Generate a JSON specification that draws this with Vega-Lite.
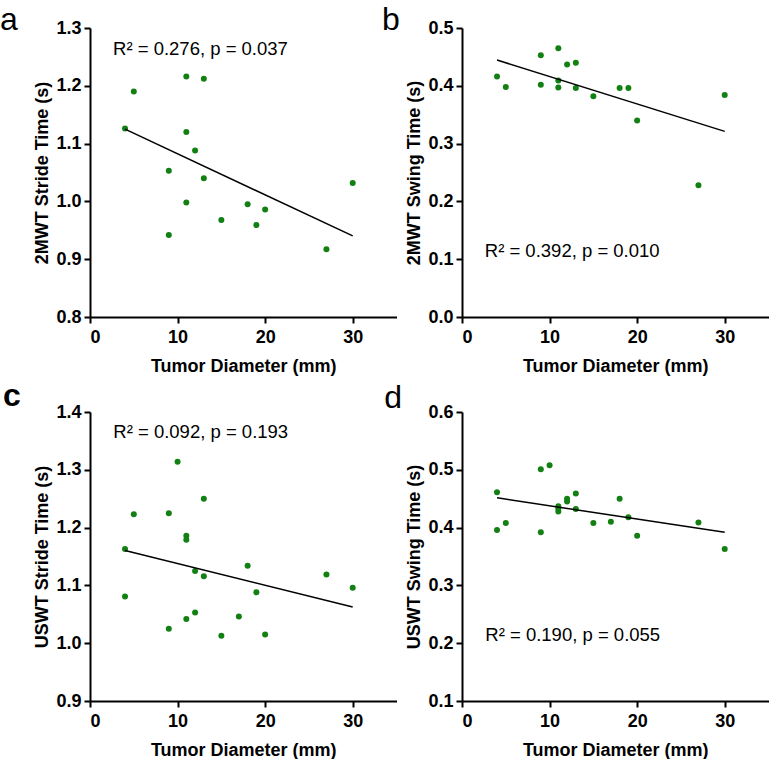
{
  "$schema": "https://vega.github.io/schema/vega-lite/v6.json",
  "background": "white",
  "padding": {"left": 0, "top": 3, "right": 0, "bottom": 0},
  "datasets": {
    "a": [
      {"x": 4, "y": 1.126}, {"x": 5, "y": 1.190}, {"x": 11, "y": 1.216}, {"x": 13, "y": 1.212},
      {"x": 11, "y": 1.120}, {"x": 12, "y": 1.088}, {"x": 9, "y": 1.053}, {"x": 13, "y": 1.040},
      {"x": 11, "y": 0.998}, {"x": 18, "y": 0.995}, {"x": 20, "y": 0.986}, {"x": 15, "y": 0.968},
      {"x": 19, "y": 0.959}, {"x": 9, "y": 0.942}, {"x": 27, "y": 0.917}, {"x": 30, "y": 1.032}
    ],
    "b": [
      {"x": 4, "y": 0.416}, {"x": 5, "y": 0.398}, {"x": 9, "y": 0.453}, {"x": 9, "y": 0.402},
      {"x": 11, "y": 0.465}, {"x": 11, "y": 0.409}, {"x": 11, "y": 0.397}, {"x": 12, "y": 0.437},
      {"x": 13, "y": 0.440}, {"x": 13, "y": 0.396}, {"x": 15, "y": 0.382}, {"x": 18, "y": 0.396},
      {"x": 19, "y": 0.396}, {"x": 20, "y": 0.340}, {"x": 27, "y": 0.228}, {"x": 30, "y": 0.384}
    ],
    "c": [
      {"x": 4, "y": 1.163}, {"x": 4, "y": 1.081}, {"x": 5, "y": 1.223}, {"x": 9, "y": 1.225},
      {"x": 9, "y": 1.025}, {"x": 10, "y": 1.314}, {"x": 11, "y": 1.186}, {"x": 11, "y": 1.179},
      {"x": 11, "y": 1.042}, {"x": 12, "y": 1.125}, {"x": 12, "y": 1.053}, {"x": 13, "y": 1.250},
      {"x": 13, "y": 1.116}, {"x": 15, "y": 1.013}, {"x": 17, "y": 1.046}, {"x": 18, "y": 1.134},
      {"x": 19, "y": 1.088}, {"x": 20, "y": 1.015}, {"x": 27, "y": 1.119}, {"x": 30, "y": 1.096}
    ],
    "d": [
      {"x": 4, "y": 0.461}, {"x": 4, "y": 0.396}, {"x": 5, "y": 0.408}, {"x": 9, "y": 0.501},
      {"x": 9, "y": 0.392}, {"x": 10, "y": 0.508}, {"x": 11, "y": 0.437}, {"x": 11, "y": 0.433},
      {"x": 11, "y": 0.428}, {"x": 12, "y": 0.450}, {"x": 12, "y": 0.445}, {"x": 13, "y": 0.459},
      {"x": 13, "y": 0.432}, {"x": 15, "y": 0.408}, {"x": 17, "y": 0.410}, {"x": 18, "y": 0.450},
      {"x": 19, "y": 0.418}, {"x": 20, "y": 0.386}, {"x": 27, "y": 0.409}, {"x": 30, "y": 0.363}
    ],
    "stats": [
      {"panel": "a", "label": "R² = 0.276, p = 0.037"},
      {"panel": "b", "label": "R² = 0.392, p = 0.010"},
      {"panel": "c", "label": "R² = 0.092, p = 0.193"},
      {"panel": "d", "label": "R² = 0.190, p = 0.055"}
    ]
  },
  "columns": 2,
  "bounds": "flush",
  "spacing": {"row": 95, "column": 65},
  "concat": [
    {
      "width": 306.5, "height": 289,
      "title": {"text": "a", "dx": -90, "dy": 21.7},
      "layer": [
        {
          "data": {"name": "a"},
          "mark": {"type": "circle", "size": 36, "color": "#128012", "opacity": 1},
          "encoding": {
            "x": {"field": "x", "type": "quantitative", "scale": {"domain": [0, 35], "nice": false},
                  "axis": {"title": "Tumor Diameter (mm)", "values": [0, 10, 20, 30], "format": "d"}},
            "y": {"field": "y", "type": "quantitative", "scale": {"domain": [0.8, 1.3], "nice": false, "zero": false},
                  "axis": {"title": "2MWT Stride Time (s)", "values": [0.8, 0.9, 1.0, 1.1, 1.2, 1.3], "format": ".1f"}}
          }
        },
        {
          "data": {"name": "a"},
          "transform": [{"regression": "y", "on": "x"}],
          "mark": {"type": "line", "color": "black", "strokeWidth": 1.5},
          "encoding": {"x": {"field": "x", "type": "quantitative"}, "y": {"field": "y", "type": "quantitative"}}
        },
        {
          "data": {"name": "stats"},
          "transform": [{"filter": "datum.panel === 'a'"}],
          "mark": {"type": "text", "align": "left", "baseline": "alphabetic", "fontSize": 18.5, "fontWeight": "normal", "font": "Liberation Sans", "color": "black"},
          "encoding": {"x": {"datum": 2.63}, "y": {"datum": 1.254}, "text": {"field": "label"}}
        }
      ]
    },
    {
      "width": 306.5, "height": 289,
      "title": {"text": "b", "dx": -80, "dy": 21.7},
      "layer": [
        {
          "data": {"name": "b"},
          "mark": {"type": "circle", "size": 36, "color": "#128012", "opacity": 1},
          "encoding": {
            "x": {"field": "x", "type": "quantitative", "scale": {"domain": [0, 35], "nice": false},
                  "axis": {"title": "Tumor Diameter (mm)", "values": [0, 10, 20, 30], "format": "d"}},
            "y": {"field": "y", "type": "quantitative", "scale": {"domain": [0, 0.5], "nice": false},
                  "axis": {"title": "2MWT Swing Time (s)", "values": [0, 0.1, 0.2, 0.3, 0.4, 0.5], "format": ".1f"}}
          }
        },
        {
          "data": {"name": "b"},
          "transform": [{"regression": "y", "on": "x"}],
          "mark": {"type": "line", "color": "black", "strokeWidth": 1.5},
          "encoding": {"x": {"field": "x", "type": "quantitative"}, "y": {"field": "y", "type": "quantitative"}}
        },
        {
          "data": {"name": "stats"},
          "transform": [{"filter": "datum.panel === 'b'"}],
          "mark": {"type": "text", "align": "left", "baseline": "alphabetic", "fontSize": 18.5, "fontWeight": "normal", "font": "Liberation Sans", "color": "black"},
          "encoding": {"x": {"datum": 2.6}, "y": {"datum": 0.103}, "text": {"field": "label"}}
        }
      ]
    },
    {
      "width": 306.5, "height": 289,
      "title": {"text": "c", "dx": -87, "dy": 14.4, "fontWeight": "bold"},
      "layer": [
        {
          "data": {"name": "c"},
          "mark": {"type": "circle", "size": 36, "color": "#128012", "opacity": 1},
          "encoding": {
            "x": {"field": "x", "type": "quantitative", "scale": {"domain": [0, 35], "nice": false},
                  "axis": {"title": "Tumor Diameter (mm)", "values": [0, 10, 20, 30], "format": "d"}},
            "y": {"field": "y", "type": "quantitative", "scale": {"domain": [0.9, 1.4], "nice": false, "zero": false},
                  "axis": {"title": "USWT Stride Time (s)", "values": [0.9, 1.0, 1.1, 1.2, 1.3, 1.4], "format": ".1f"}}
          }
        },
        {
          "data": {"name": "c"},
          "transform": [{"regression": "y", "on": "x"}],
          "mark": {"type": "line", "color": "black", "strokeWidth": 1.5},
          "encoding": {"x": {"field": "x", "type": "quantitative"}, "y": {"field": "y", "type": "quantitative"}}
        },
        {
          "data": {"name": "stats"},
          "transform": [{"filter": "datum.panel === 'c'"}],
          "mark": {"type": "text", "align": "left", "baseline": "alphabetic", "fontSize": 18.5, "fontWeight": "normal", "font": "Liberation Sans", "color": "black"},
          "encoding": {"x": {"datum": 2.66}, "y": {"datum": 1.355}, "text": {"field": "label"}}
        }
      ]
    },
    {
      "width": 306.5, "height": 289,
      "title": {"text": "d", "dx": -77.7, "dy": 15.7},
      "layer": [
        {
          "data": {"name": "d"},
          "mark": {"type": "circle", "size": 36, "color": "#128012", "opacity": 1},
          "encoding": {
            "x": {"field": "x", "type": "quantitative", "scale": {"domain": [0, 35], "nice": false},
                  "axis": {"title": "Tumor Diameter (mm)", "values": [0, 10, 20, 30], "format": "d"}},
            "y": {"field": "y", "type": "quantitative", "scale": {"domain": [0.1, 0.6], "nice": false, "zero": false},
                  "axis": {"title": "USWT Swing Time (s)", "values": [0.1, 0.2, 0.3, 0.4, 0.5, 0.6], "format": ".1f"}}
          }
        },
        {
          "data": {"name": "d"},
          "transform": [{"regression": "y", "on": "x"}],
          "mark": {"type": "line", "color": "black", "strokeWidth": 1.5},
          "encoding": {"x": {"field": "x", "type": "quantitative"}, "y": {"field": "y", "type": "quantitative"}}
        },
        {
          "data": {"name": "stats"},
          "transform": [{"filter": "datum.panel === 'd'"}],
          "mark": {"type": "text", "align": "left", "baseline": "alphabetic", "fontSize": 18.5, "fontWeight": "normal", "font": "Liberation Sans", "color": "black"},
          "encoding": {"x": {"datum": 2.66}, "y": {"datum": 0.2045}, "text": {"field": "label"}}
        }
      ]
    }
  ],
  "config": {
    "view": {"stroke": null},
    "font": "Liberation Sans",
    "title": {"anchor": "start", "frame": "group", "fontSize": 32, "fontWeight": "normal", "font": "Liberation Sans", "color": "black", "offset": 0},
    "axis": {
      "grid": false,
      "domainColor": "black", "domainWidth": 2,
      "tickColor": "black", "tickWidth": 2, "tickSize": 6,
      "labelFont": "Liberation Sans", "labelFontWeight": "bold", "labelFontSize": 18, "labelColor": "black",
      "titleFont": "Liberation Sans", "titleFontWeight": "bold", "titleFontSize": 18, "titleColor": "black"
    },
    "axisX": {"labelPadding": 5, "titlePadding": 11},
    "axisY": {"labelPadding": 3, "titlePadding": 4}
  }
}
